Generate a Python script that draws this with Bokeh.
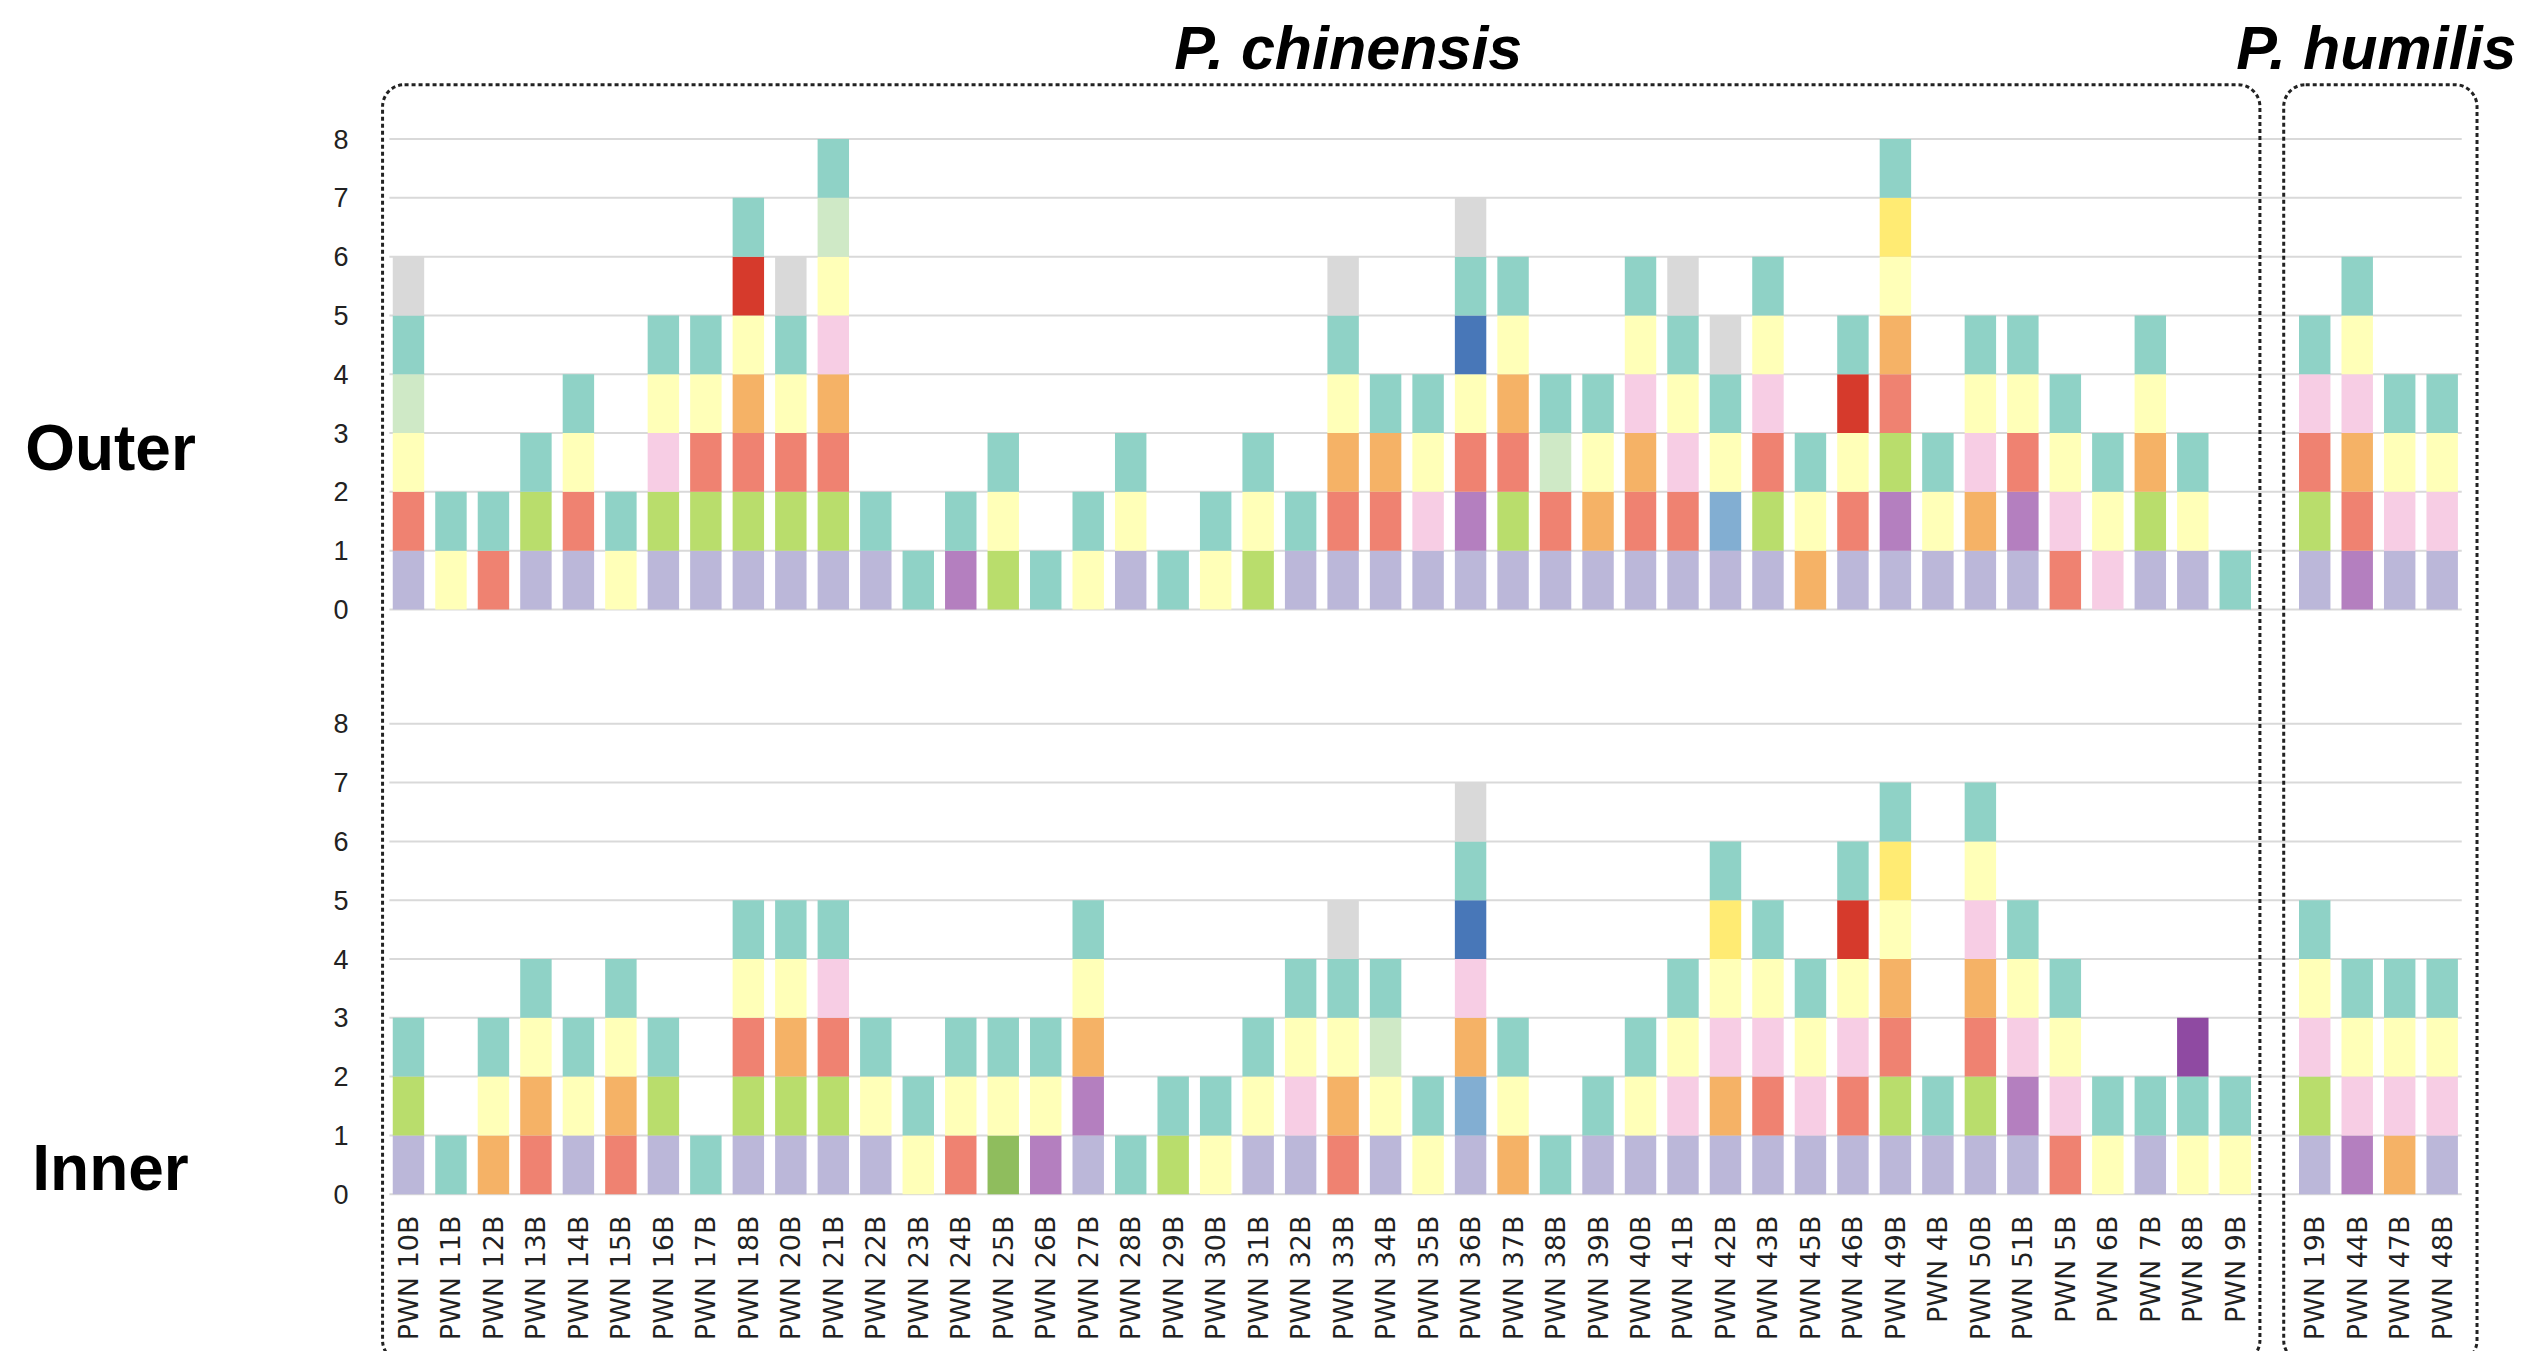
from math import pi

from bokeh.plotting import figure
from bokeh.layouts import row
from bokeh.models import (ColumnDataSource, FixedTicker, Label,
                          BoxAnnotation, Range1d)
from bokeh.embed import file_html
from bokeh.resources import INLINE
from bokeh.core.properties import value

# ---------------- data ----------------
groups = ["P. chinensis", "P. humilis"]

chinensis_samples = [
    "PWN 10B", "PWN 11B", "PWN 12B", "PWN 13B", "PWN 14B", "PWN 15B", "PWN 16B",
    "PWN 17B", "PWN 18B", "PWN 20B", "PWN 21B", "PWN 22B", "PWN 23B", "PWN 24B",
    "PWN 25B", "PWN 26B", "PWN 27B", "PWN 28B", "PWN 29B", "PWN 30B", "PWN 31B",
    "PWN 32B", "PWN 33B", "PWN 34B", "PWN 35B", "PWN 36B", "PWN 37B", "PWN 38B",
    "PWN 39B", "PWN 40B", "PWN 41B", "PWN 42B", "PWN 43B", "PWN 45B", "PWN 46B",
    "PWN 49B", "PWN 4B", "PWN 50B", "PWN 51B", "PWN 5B", "PWN 6B", "PWN 7B",
    "PWN 8B", "PWN 9B",
]
humilis_samples = ["PWN 19B", "PWN 44B", "PWN 47B", "PWN 48B"]

# category codes of each stacked unit, listed bottom -> top
outer_chinensis = [
    ["L", "S", "Y", "LG", "T", "Gr"],        # 10B
    ["Y", "T"],                              # 11B
    ["S", "T"],                              # 12B
    ["L", "G", "T"],                         # 13B
    ["L", "S", "Y", "T"],                    # 14B
    ["Y", "T"],                              # 15B
    ["L", "G", "P", "Y", "T"],               # 16B
    ["L", "G", "S", "Y", "T"],               # 17B
    ["L", "G", "S", "O", "Y", "R", "T"],     # 18B
    ["L", "G", "S", "Y", "T", "Gr"],         # 20B
    ["L", "G", "S", "O", "P", "Y", "LG", "T"],  # 21B
    ["L", "T"],                              # 22B
    ["T"],                                   # 23B
    ["M", "T"],                              # 24B
    ["G", "Y", "T"],                         # 25B
    ["T"],                                   # 26B
    ["Y", "T"],                              # 27B
    ["L", "Y", "T"],                         # 28B
    ["T"],                                   # 29B
    ["Y", "T"],                              # 30B
    ["G", "Y", "T"],                         # 31B
    ["L", "T"],                              # 32B
    ["L", "S", "O", "Y", "T", "Gr"],         # 33B
    ["L", "S", "O", "T"],                    # 34B
    ["L", "P", "Y", "T"],                    # 35B
    ["L", "M", "S", "Y", "B", "T", "Gr"],    # 36B
    ["L", "G", "S", "O", "Y", "T"],          # 37B
    ["L", "S", "LG", "T"],                   # 38B
    ["L", "O", "Y", "T"],                    # 39B
    ["L", "S", "O", "P", "Y", "T"],          # 40B
    ["L", "S", "P", "Y", "T", "Gr"],         # 41B
    ["L", "LB", "Y", "T", "Gr"],             # 42B
    ["L", "G", "S", "P", "Y", "T"],          # 43B
    ["O", "Y", "T"],                         # 45B
    ["L", "S", "Y", "R", "T"],               # 46B
    ["L", "M", "G", "S", "O", "Y", "GY", "T"],  # 49B
    ["L", "Y", "T"],                         # 4B
    ["L", "O", "P", "Y", "T"],               # 50B
    ["L", "M", "S", "Y", "T"],               # 51B
    ["S", "P", "Y", "T"],                    # 5B
    ["P", "Y", "T"],                         # 6B
    ["L", "G", "O", "Y", "T"],               # 7B
    ["L", "Y", "T"],                         # 8B
    ["T"],                                   # 9B
]
outer_humilis = [
    ["L", "G", "S", "P", "T"],               # 19B
    ["M", "S", "O", "P", "Y", "T"],          # 44B
    ["L", "P", "Y", "T"],                    # 47B
    ["L", "P", "Y", "T"],                    # 48B
]

inner_chinensis = [
    ["L", "G", "T"],                         # 10B
    ["T"],                                   # 11B
    ["O", "Y", "T"],                         # 12B
    ["S", "O", "Y", "T"],                    # 13B
    ["L", "Y", "T"],                         # 14B
    ["S", "O", "Y", "T"],                    # 15B
    ["L", "G", "T"],                         # 16B
    ["T"],                                   # 17B
    ["L", "G", "S", "Y", "T"],               # 18B
    ["L", "G", "O", "Y", "T"],               # 20B
    ["L", "G", "S", "P", "T"],               # 21B
    ["L", "Y", "T"],                         # 22B
    ["Y", "T"],                              # 23B
    ["S", "Y", "T"],                         # 24B
    ["DG", "Y", "T"],                        # 25B
    ["M", "Y", "T"],                         # 26B
    ["L", "M", "O", "Y", "T"],               # 27B
    ["T"],                                   # 28B
    ["G", "T"],                              # 29B
    ["Y", "T"],                              # 30B
    ["L", "Y", "T"],                         # 31B
    ["L", "P", "Y", "T"],                    # 32B
    ["S", "O", "Y", "T", "Gr"],              # 33B
    ["L", "Y", "LG", "T"],                   # 34B
    ["Y", "T"],                              # 35B
    ["L", "LB", "O", "P", "B", "T", "Gr"],   # 36B
    ["O", "Y", "T"],                         # 37B
    ["T"],                                   # 38B
    ["L", "T"],                              # 39B
    ["L", "Y", "T"],                         # 40B
    ["L", "P", "Y", "T"],                    # 41B
    ["L", "O", "P", "Y", "GY", "T"],         # 42B
    ["L", "S", "P", "Y", "T"],               # 43B
    ["L", "P", "Y", "T"],                    # 45B
    ["L", "S", "P", "Y", "R", "T"],          # 46B
    ["L", "G", "S", "O", "Y", "GY", "T"],    # 49B
    ["L", "T"],                              # 4B
    ["L", "G", "S", "O", "P", "Y", "T"],     # 50B
    ["L", "M", "P", "Y", "T"],               # 51B
    ["S", "P", "Y", "T"],                    # 5B
    ["Y", "T"],                              # 6B
    ["L", "T"],                              # 7B
    ["Y", "T", "DP"],                        # 8B
    ["Y", "T"],                              # 9B
]
inner_humilis = [
    ["L", "G", "P", "Y", "T"],               # 19B
    ["M", "P", "Y", "T"],                    # 44B
    ["O", "P", "Y", "T"],                    # 47B
    ["L", "P", "Y", "T"],                    # 48B
]

category_colors = {
    "T": "#8fd2c6", "Y": "#ffffb8", "L": "#bbb7d9", "S": "#ef8271",
    "O": "#f5b266", "G": "#b9dd6c", "P": "#f7cde4", "M": "#b47fbf",
    "Gr": "#d9d9d9", "LG": "#cfe9c6", "GY": "#ffeb73", "LB": "#82aed2",
    "R": "#d63a2c", "B": "#4877b8", "DG": "#8fbd5d", "DP": "#8f4aa2",
}

y_ticks = [0, 1, 2, 3, 4, 5, 6, 7, 8]
panel_names = ["Outer", "Inner"]

# ---------------- layout ----------------
outer_base = 9.945
inner_base = 0.0
group_gap = 0.87

n_chin = len(chinensis_samples)
chin_pos = [float(i) for i in range(n_chin)]
hum_pos = [n_chin + group_gap + j for j in range(len(humilis_samples))]
all_pos = chin_pos + hum_pos
all_samples = chinensis_samples + humilis_samples

xs, bottoms, tops, colors = [], [], [], []
for base, stacks in ((outer_base, outer_chinensis + outer_humilis),
                     (inner_base, inner_chinensis + inner_humilis)):
    for xp, stack in zip(all_pos, stacks):
        for k, code in enumerate(stack):
            xs.append(xp)
            bottoms.append(base + k)
            tops.append(base + k + 1)
            colors.append(category_colors[code])
src = ColumnDataSource(dict(x=xs, bottom=bottoms, top=tops, color=colors))

y_range = Range1d(-2.675, 20.301)

# left strip with the panel names
left = figure(width=330, height=1351, x_range=Range1d(0, 330), y_range=y_range,
              output_backend="svg", toolbar_location=None, title=None,
              x_axis_location=None, y_axis_location=None,
              min_border_left=0, min_border_right=0,
              min_border_top=0, min_border_bottom=0)
left.outline_line_color = None
left.xgrid.grid_line_color = None
left.ygrid.grid_line_color = None
left.text(x=[110, 110], y=[outer_base + 2.75, inner_base + 0.45], text=panel_names,
          text_align="center", text_baseline="middle",
          text_font=value("Liberation Sans"), text_font_style="bold",
          text_font_size="64px", text_color="black")

# main plot
p = figure(width=2189, height=1351, x_range=Range1d(-0.682, 49.69),
           y_range=y_range, output_backend="svg", toolbar_location=None,
           title=None, x_axis_location=None,
           min_border_left=48, min_border_right=0,
           min_border_top=0, min_border_bottom=0)
p.outline_line_color = None

tick_vals = [inner_base + k for k in y_ticks] + [outer_base + k for k in y_ticks]
ticker = FixedTicker(ticks=tick_vals)
p.yaxis.ticker = ticker
p.yaxis.major_label_overrides = {v: str(k) for v, k in zip(tick_vals, y_ticks + y_ticks)}
p.yaxis.axis_line_color = None
p.yaxis.major_tick_line_color = None
p.yaxis.minor_tick_line_color = None
p.yaxis.major_label_standoff = 25
p.yaxis.major_label_text_font = "Liberation Sans"
p.yaxis.major_label_text_font_size = "27px"
p.yaxis.major_label_text_color = "#222222"
p.xgrid.grid_line_color = None
p.ygrid.grid_line_color = None

# horizontal grid lines spanning the sample columns only
p.segment(x0=[all_pos[0] - 0.45] * len(tick_vals),
          x1=[all_pos[-1] + 0.46] * len(tick_vals),
          y0=tick_vals, y1=tick_vals, line_color="#d9d9d9", line_width=2)

p.vbar(x="x", bottom="bottom", top="top", width=0.74, source=src,
       fill_color="color", line_color=None)

# sample labels (rotated)
p.text(x=all_pos, y=[-0.362] * len(all_pos), text=all_samples, angle=pi / 2,
       text_align="right", text_baseline="middle",
       text_font=value("DejaVu Sans"), text_font_size="27px",
       text_color="#222222")

# dashed rounded group boxes
boxes = [(chin_pos[0] - 0.61, chin_pos[-1] + 0.58),
         (hum_pos[0] - 0.73, hum_pos[-1] + 0.82)]
for bl, br in boxes:
    p.add_layout(BoxAnnotation(left=bl, right=br, top=18.87, bottom=-2.86,
                               fill_color=None, fill_alpha=0,
                               line_color="#222222", line_alpha=1.0,
                               line_width=3, line_dash="4 3",
                               border_radius=22, level="overlay"))

# group titles
p.add_layout(Label(x=22.12, y=19.49, text=groups[0], text_align="center",
                   text_baseline="alphabetic", text_font="Liberation Sans",
                   text_font_style="bold italic", text_font_size="61px",
                   text_color="black"))
p.add_layout(Label(x=49.62, y=19.49, text=groups[1], text_align="right",
                   text_baseline="alphabetic", text_font="Liberation Sans",
                   text_font_style="bold italic", text_font_size="61px",
                   text_color="black"))

layout = row(left, p, spacing=0)
open("out.html", "w").write(file_html(layout, INLINE))
